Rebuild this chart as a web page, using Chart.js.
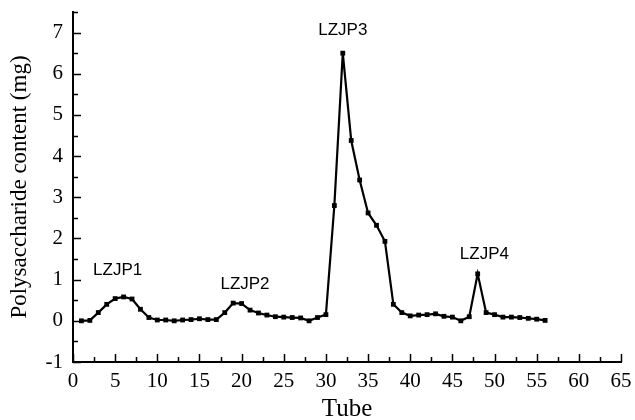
<!DOCTYPE html>
<html>
<head>
<meta charset="utf-8">
<script src="https://cdn.jsdelivr.net/npm/chart.js@4.4.1/dist/chart.umd.min.js"></script>
<style>
  html, body { margin: 0; padding: 0; background: #fff; }
  #wrap { width: 635px; height: 420px; position: relative; }
</style>
</head>
<body>
<div id="wrap"><canvas id="chart"></canvas></div>
<script>
// tube numbers and polysaccharide content (mg)
const tubes = [1, 2, 3, 4, 5, 6, 7, 8, 9, 10, 11, 12, 13, 14, 15, 16, 17, 18, 19, 20,
    21, 22, 23, 24, 25, 26, 27, 28, 29, 30, 31, 32, 33, 34, 35, 36, 37, 38, 39, 40,
    41, 42, 43, 44, 45, 46, 47, 48, 49, 50, 51, 52, 53, 54, 55, 56];
const content = [0.00, 0.01, 0.20, 0.40, 0.54, 0.58, 0.53, 0.28, 0.08, 0.02,
    0.02, 0.00, 0.02, 0.03, 0.05, 0.03, 0.03, 0.20, 0.43, 0.42,
    0.26, 0.19, 0.14, 0.10, 0.09, 0.08, 0.07, 0.00, 0.08, 0.15,
    2.80, 6.50, 4.38, 3.42, 2.62, 2.32, 1.93, 0.40, 0.20, 0.12,
    0.14, 0.15, 0.17, 0.11, 0.09, 0.00, 0.10, 1.14, 0.20, 0.15,
    0.09, 0.09, 0.08, 0.06, 0.04, 0.01];

const xTicks = [0, 5, 10, 15, 20, 25, 30, 35, 40, 45, 50, 55, 60, 65];
const yTicks = [-1, 0, 1, 2, 3, 4, 5, 6, 7];

// fraction labels placed next to each peak
const peakNames = ["LZJP1", "LZJP2", "LZJP3", "LZJP4"];
const peakX = [5.3, 20.4, 32.0, 48.8];
const peakY = [1.22, 0.88, 7.05, 1.62];

const serif = '"Liberation Serif", "Times New Roman", serif';

// ticks point into the plot, with half-step minor ticks
const innerTicks = {
    id: "innerTicks",
    afterDatasetsDraw(chart) {
        const { ctx, chartArea, scales } = chart;
        const x = scales.x, y = scales.y;
        ctx.save();
        ctx.strokeStyle = "#000";
        ctx.lineWidth = 1.5;
        ctx.beginPath();
        for (let v = x.min; v <= x.max + 0.001; v += 2.5) {
            const px = Math.round(x.getPixelForValue(v)) + 0.5;
            const len = v % 5 === 0 ? 8 : 5;
            ctx.moveTo(px, chartArea.bottom);
            ctx.lineTo(px, chartArea.bottom - len);
        }
        for (let v = y.min; v <= y.max + 0.001; v += 0.5) {
            const py = Math.round(y.getPixelForValue(v)) + 0.5;
            const len = Number.isInteger(v) ? 8 : 5;
            ctx.moveTo(chartArea.left, py);
            ctx.lineTo(chartArea.left + len, py);
        }
        ctx.stroke();

        ctx.fillStyle = "#000";
        ctx.font = '17px "Liberation Sans", Arial, sans-serif';
        ctx.textAlign = "center";
        ctx.textBaseline = "middle";
        peakNames.forEach((name, i) => {
            ctx.fillText(name, x.getPixelForValue(peakX[i]), y.getPixelForValue(peakY[i]));
        });
        ctx.restore();
    },
};

new Chart(document.getElementById("chart"), {
    type: "line",
    data: {
        labels: tubes,
        datasets: [{
            data: tubes.map((t, i) => ({ x: t, y: content[i] })),
            borderColor: "#000",
            backgroundColor: "#000",
            borderWidth: 2.2,
            tension: 0,
            pointStyle: "rect",
            pointRadius: 3.4,
            pointBorderWidth: 0,
        }],
    },
    options: {
        responsive: true,
        maintainAspectRatio: false,
        animation: false,
        layout: { padding: { left: 0, right: 14, top: 12, bottom: 0 } },
        plugins: { legend: { display: false }, tooltip: { enabled: false } },
        scales: {
            x: {
                type: "linear",
                min: 0,
                max: 65,
                afterBuildTicks: (s) => { s.ticks = xTicks.map((v) => ({ value: v })); },
                afterFit: (s) => { s.height = 58; s.paddingLeft = 0; s.paddingRight = 0; },
                grid: { display: false, drawTicks: false },
                border: { display: true, color: "#000", width: 2 },
                ticks: {
                    color: "#000",
                    padding: 7,
                    maxRotation: 0,
                    autoSkip: false,
                    font: { family: serif, size: 21 },
                },
                title: {
                    display: true,
                    text: "Tube",
                    color: "#000",
                    font: { family: serif, size: 25, lineHeight: 1.0 },
                    padding: { top: 0, bottom: -2 },
                },
            },
            y: {
                min: -1,
                max: 7.5,
                afterBuildTicks: (s) => { s.ticks = yTicks.map((v) => ({ value: v })); },
                afterFit: (s) => { s.width = 73; s.paddingTop = 0; s.paddingBottom = 0; },
                grid: { display: false, drawTicks: false },
                border: { display: true, color: "#000", width: 2 },
                ticks: {
                    color: "#000",
                    padding: 10,
                    autoSkip: false,
                    font: { family: serif, size: 21 },
                },
                title: {
                    display: true,
                    text: "Polysaccharide content (mg)",
                    color: "#000",
                    font: { family: serif, size: 23 },
                    padding: { top: 6, bottom: 0 },
                },
            },
        },
    },
    plugins: [innerTicks],
});
</script>
</body>
</html>
